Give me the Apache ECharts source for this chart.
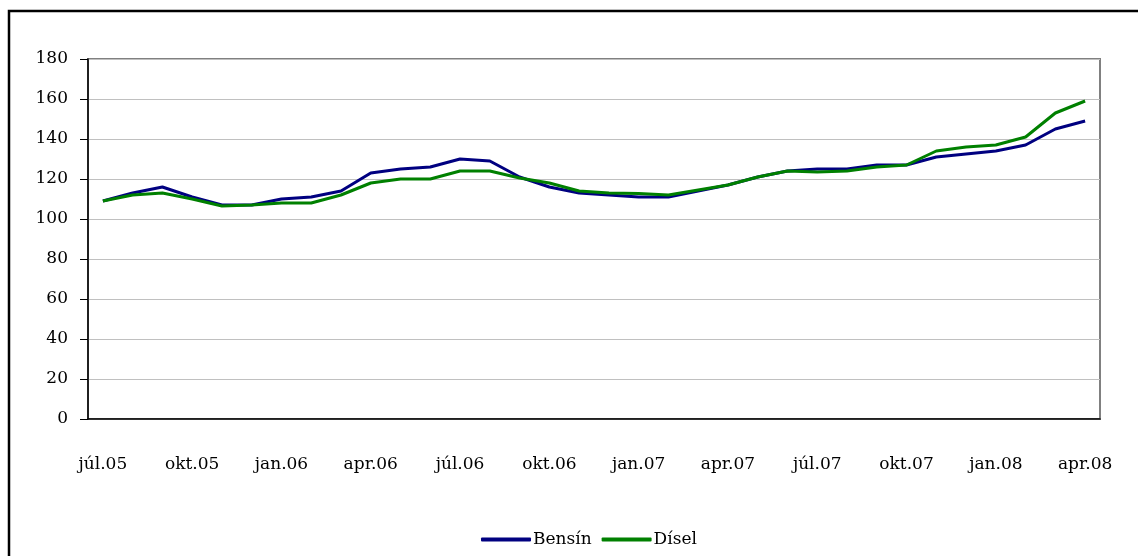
<!DOCTYPE html>
<html>
<head>
<meta charset="utf-8">
<script src="https://cdn.jsdelivr.net/npm/echarts@6/dist/echarts.min.js"></script>
<style>
  html, body { margin: 0; padding: 0; background: #fff; }
  #chart { width: 1138px; height: 556px; }
</style>
</head>
<body>
<div id="chart"></div>
<script>
// hónaðir júl.05 - apr.08
const months = [
  'júl.05', 'ágú.05', 'sep.05', 'okt.05', 'nóv.05', 'des.05',
  'jan.06', 'feb.06', 'mar.06', 'apr.06', 'maí.06', 'jún.06',
  'júl.06', 'ágú.06', 'sep.06', 'okt.06', 'nóv.06', 'des.06',
  'jan.07', 'feb.07', 'mar.07', 'apr.07', 'maí.07', 'jún.07',
  'júl.07', 'ágú.07', 'sep.07', 'okt.07', 'nóv.07', 'des.07',
  'jan.08', 'feb.08', 'mar.08', 'apr.08'
];
const bensin = [
  109, 113, 116, 111, 107, 107, 110, 111, 114, 123, 125, 126,
  130, 129, 121, 116, 113, 112, 111, 111, 114, 117, 121, 124,
  125, 125, 127, 127, 131, 132.5, 134, 137, 145, 149
];
const disel = [
  109, 112, 113, 110, 106.5, 107, 108, 108, 112, 118, 120, 120,
  124, 124, 120.5, 118, 114, 113, 112.7, 112, 114.5, 117, 121, 124,
  123.5, 124, 126, 127, 134, 136, 137, 141, 153, 159
];

const font = 'DejaVu Serif';
let myChart = echarts.init(document.getElementById('chart'));

let option = {
  backgroundColor: '#fff',
  animation: false,
  textStyle: { fontFamily: font },
  grid: { left: 88, right: 38, top: 59, bottom: 137, show: true, borderColor: '#808080', borderWidth: 2 },
  graphic: [{
    type: 'rect',
    shape: { x: 9, y: 11, width: 1300, height: 800 },
    style: { fill: 'none', stroke: '#000', lineWidth: 2.5 }
  }],
  legend: {
    left: 476,
    top: 526,
    icon: 'roundRect',
    itemWidth: 50,
    itemHeight: 4,
    itemGap: 10,
    textStyle: { fontFamily: font, fontSize: 17, color: '#000', padding: [0, 0, 0, -3] },
    data: ['Bensín', 'Dísel']
  },
  xAxis: {
    type: 'category',
    data: months,
    boundaryGap: true,
    axisLine: { lineStyle: { color: '#000', width: 1.5 } },
    axisTick: { interval: 2, length: 8, lineStyle: { color: '#000' } },
    axisLabel: { interval: 2, margin: 37, fontFamily: font, fontSize: 17, color: '#000' },
    splitLine: { show: false }
  },
  yAxis: {
    type: 'value',
    min: 0,
    max: 180,
    interval: 20,
    axisLine: { show: true, lineStyle: { color: '#000', width: 1.5 } },
    axisTick: { show: true, length: 8, lineStyle: { color: '#000' } },
    axisLabel: { margin: 20, fontFamily: font, fontSize: 17, color: '#000' },
    splitLine: { lineStyle: { color: '#c0c0c0', width: 1 } }
  },
  series: [
    {
      name: 'Bensín',
      type: 'line',
      data: bensin,
      symbol: 'none',
      lineStyle: { color: '#000080', width: 3 },
      itemStyle: { color: '#000080' }
    },
    {
      name: 'Dísel',
      type: 'line',
      data: disel,
      symbol: 'none',
      lineStyle: { color: '#008000', width: 3 },
      itemStyle: { color: '#008000' }
    }
  ]
};

myChart.setOption(option);
</script>
</body>
</html>
